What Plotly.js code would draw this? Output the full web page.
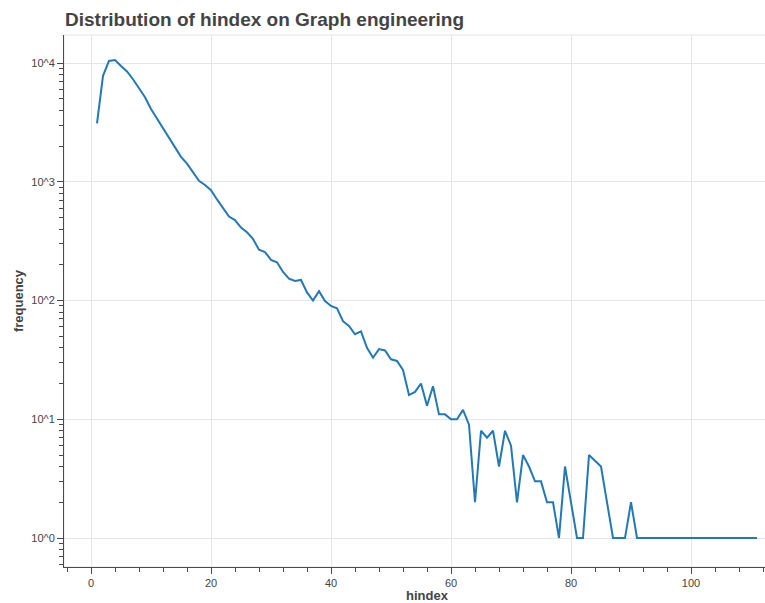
<!DOCTYPE html>
<html>
<head>
<meta charset="utf-8">
<script src="https://cdn.plot.ly/plotly-3.0.1.min.js"></script>
<style>
  html, body { margin: 0; padding: 0; overflow: hidden; background: #ffffff; }
  #chart { width: 792px; height: 603px; }
</style>
</head>
<body>
<div id="chart"></div>
<script>
// h-index values that occur in the field, and how many authors have each
const hindex = [
  1, 2, 3, 4, 5, 6, 7, 8, 9, 10,
  11, 12, 13, 14, 15, 16, 17, 18, 19, 20,
  21, 22, 23, 24, 25, 26, 27, 28, 29, 30,
  31, 32, 33, 34, 35, 36, 37, 38, 39, 40,
  41, 42, 43, 44, 45, 46, 47, 48, 49, 50,
  51, 52, 53, 54, 55, 56, 57, 58, 59, 60,
  61, 62, 63, 64, 65, 66, 67, 68, 69, 70,
  71, 72, 73, 74, 75, 76, 77, 78, 79, 81,
  82, 83, 85, 87, 88, 89, 90, 91, 111
];
const frequency = [
  3100, 7800, 10400, 10600, 9450, 8500, 7300, 6150, 5150, 4100,
  3400, 2800, 2300, 1900, 1620, 1420, 1190, 1020, 940, 850,
  710, 605, 510, 476, 412, 376, 330, 268, 256, 220,
  210, 174, 153, 146, 149, 117, 100, 120, 99, 90,
  86, 67, 61, 52, 55, 40, 33, 39, 38, 32,
  31, 26, 16, 17, 20, 13, 19, 11, 11, 10,
  10, 12, 9, 2, 8, 7, 8, 4, 8, 6,
  2, 5, 4, 3, 3, 2, 2, 1, 4, 1,
  1, 5, 4, 1, 1, 1, 2, 1, 1
];

// log-axis labels, written as powers of ten
const yTickVals = [1, 10, 100, 1000, 10000];
const yTickText = ['10^0', '10^1', '10^2', '10^3', '10^4'];

// minor ticks at 2..9 times each power of ten (plus the part below 1)
const yMinor = [0.6, 0.7, 0.8, 0.9];
for (let p = 0; p < 4; p++) {
  for (let m = 2; m <= 9; m++) yMinor.push(m * Math.pow(10, p));
}

const FONT = 'Liberation Sans, Arial, Helvetica, sans-serif';
const INK = '#444444';
const AXIS = '#4a4a4a';
const GRID = '#e5e5e5';

const trace = {
  type: 'scatter',
  mode: 'lines',
  x: hindex,
  y: frequency,
  line: { color: '#2378b5', width: 2 },
  hoverinfo: 'x+y'
};

const layout = {
  width: 792,
  height: 603,
  margin: { l: 64, r: 2, t: 35, b: 36, pad: 0 },
  paper_bgcolor: '#ffffff',
  plot_bgcolor: '#ffffff',
  font: { family: FONT, color: INK },
  showlegend: false,
  title: {
    text: 'Distribution of hindex on Graph engineering',
    font: { family: FONT, size: 19, color: INK, weight: 'bold' },
    xref: 'container', x: 65 / 792, xanchor: 'left',
    yref: 'container', y: 1 - 19.5 / 603, yanchor: 'middle'
  },
  xaxis: {
    range: [-4.5, 116.5],
    tick0: 0, dtick: 20,
    showline: true, linecolor: AXIS, linewidth: 1,
    ticks: 'outside', ticklen: 6, tickwidth: 1, tickcolor: AXIS,
    tickfont: { family: FONT, size: 11, color: INK },
    showgrid: true, gridcolor: GRID, gridwidth: 1,
    zeroline: false,
    minor: { tick0: 0, dtick: 4, ticks: 'outside', ticklen: 4, tickcolor: AXIS, tickwidth: 1, showgrid: false },
    title: { text: 'hindex', font: { family: FONT, size: 13, color: INK, weight: 'bold' }, standoff: 6 },
    automargin: false
  },
  yaxis: {
    type: 'log',
    range: [-0.244, 4.236],
    tickmode: 'array', tickvals: yTickVals, ticktext: yTickText,
    showline: true, linecolor: AXIS, linewidth: 1,
    ticks: 'outside', ticklen: 6, tickwidth: 1, tickcolor: AXIS,
    tickfont: { family: FONT, size: 11, color: INK },
    showgrid: true, gridcolor: GRID, gridwidth: 1,
    zeroline: false,
    minor: { tickmode: 'array', tickvals: yMinor, ticks: 'outside', ticklen: 4, tickcolor: AXIS, tickwidth: 1, showgrid: false },
    title: { text: 'frequency', font: { family: FONT, size: 13, color: INK, weight: 'bold' }, standoff: 4 },
    automargin: false
  },
  shapes: [{
    type: 'rect', xref: 'paper', yref: 'paper', x0: 0, x1: 1, y0: 0, y1: 1,
    line: { color: GRID, width: 1 }, fillcolor: 'rgba(0,0,0,0)', layer: 'below'
  }]
};

Plotly.newPlot('chart', [trace], layout, { displayModeBar: false, staticPlot: true });
</script>
</body>
</html>
